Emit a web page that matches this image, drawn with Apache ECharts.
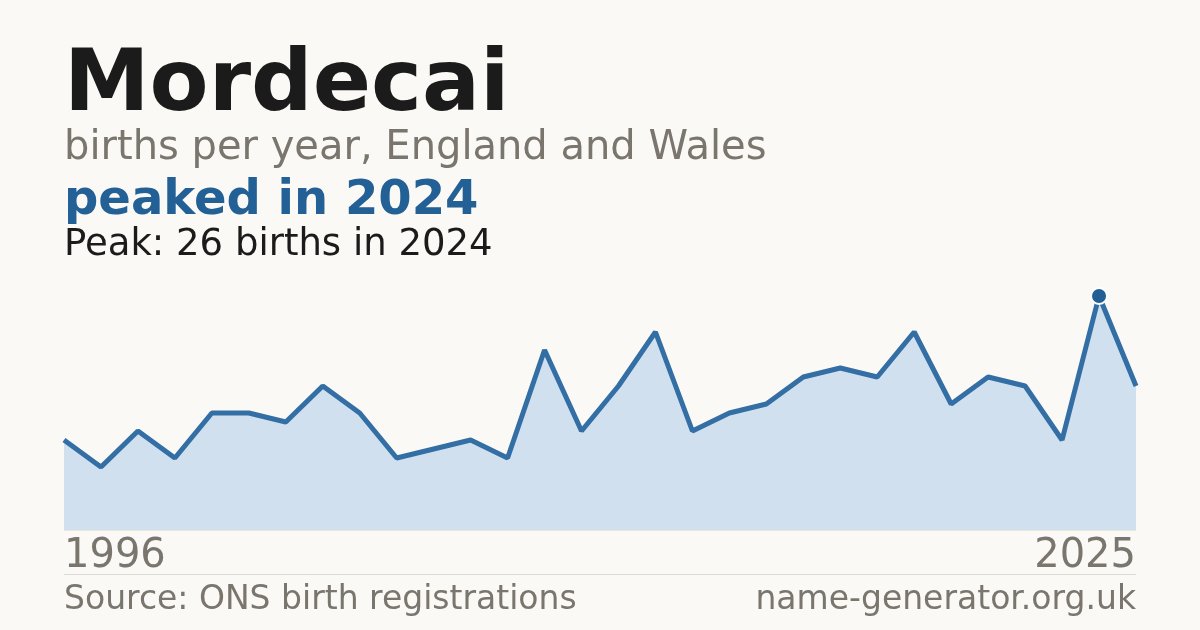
<!DOCTYPE html>
<html><head><meta charset="utf-8">
<script src="https://cdn.jsdelivr.net/npm/echarts@6/dist/echarts.min.js"></script>
<style>html,body{margin:0;padding:0;background:#faf9f5;}#c{width:1200px;height:630px;}</style>
</head><body><div id="c"></div>
<script>
const years = [1996,1997,1998,1999,2000,2001,2002,2003,2004,2005,2006,2007,2008,2009,2010,2011,2012,2013,2014,2015,2016,2017,2018,2019,2020,2021,2022,2023,2024,2025];
const births = [10,7,11,8,13,13,12,16,13,8,9,10,8,20,11,16,22,11,13,14,17,18,17,22,14,17,16,10,26,16];
const peakYear = 2024;
const titleText = 'Mordecai';
const subtitleText = 'births per year, England and Wales';
const headlineText = 'peaked in 2024';
const peakText = 'Peak: 26 births in 2024';
const sourceText = 'Source: ONS birth registrations';
const siteText = 'name-generator.org.uk';

const F = 'DejaVu Sans';
const chart = echarts.init(document.getElementById('c'));
const seriesData = births.map((v, i) => years[i] === peakYear ? {
  value: v, symbol: 'circle', symbolSize: 16,
  itemStyle: { color: '#225f95', borderColor: '#ffffff', borderWidth: 2 }
} : { value: v, symbol: 'none' });

chart.setOption({
  backgroundColor: '#faf9f5',
  animation: false,
  grid: { left: 64, right: 64, top: 296, bottom: 100 },
  xAxis: {
    type: 'category', data: years.map(String), boundaryGap: false,
    axisLine: { show: true, lineStyle: { color: '#ece6da', width: 1 } },
    axisTick: { show: false },
    splitLine: { show: false },
    axisLabel: {
      interval: (i) => i === 0 || i === years.length - 1,
      fontFamily: F, fontSize: 40, color: '#7a756d', margin: 7,
      alignMinLabel: 'left', alignMaxLabel: 'right'
    }
  },
  yAxis: { type: 'value', min: 0, max: 26, show: false, splitLine: { show: false } },
  series: [{
    type: 'line', data: seriesData, symbol: 'none',
    lineStyle: { color: '#336fa4', width: 5 },
    areaStyle: { color: '#d0e0ef', opacity: 1 },
    z: 3
  }],
  graphic: [
    { type: 'text', left: 64, top: 45, style: { text: titleText, font: 'bold 86px "DejaVu Sans"', fill: '#1b1b1b' } },
    { type: 'text', left: 64, top: 129, style: { text: subtitleText, font: '40px "DejaVu Sans"', fill: '#7a756d' } },
    { type: 'text', left: 64, top: 178, style: { text: headlineText, font: 'bold 48px "DejaVu Sans"', fill: '#226096' } },
    { type: 'text', left: 64, top: 227, style: { text: peakText, font: '37px "DejaVu Sans"', fill: '#1b1b1b' } },
    { type: 'line', shape: { x1: 64, y1: 574.5, x2: 1136, y2: 574.5 }, style: { stroke: '#dcd9d2', lineWidth: 1 } },
    { type: 'text', left: 64, top: 584, style: { text: sourceText, font: '33px "DejaVu Sans"', fill: '#7a756d' } },
    { type: 'text', right: 64, top: 584, style: { text: siteText, font: '33px "DejaVu Sans"', fill: '#7a756d' } }
  ]
});
</script></body></html>
